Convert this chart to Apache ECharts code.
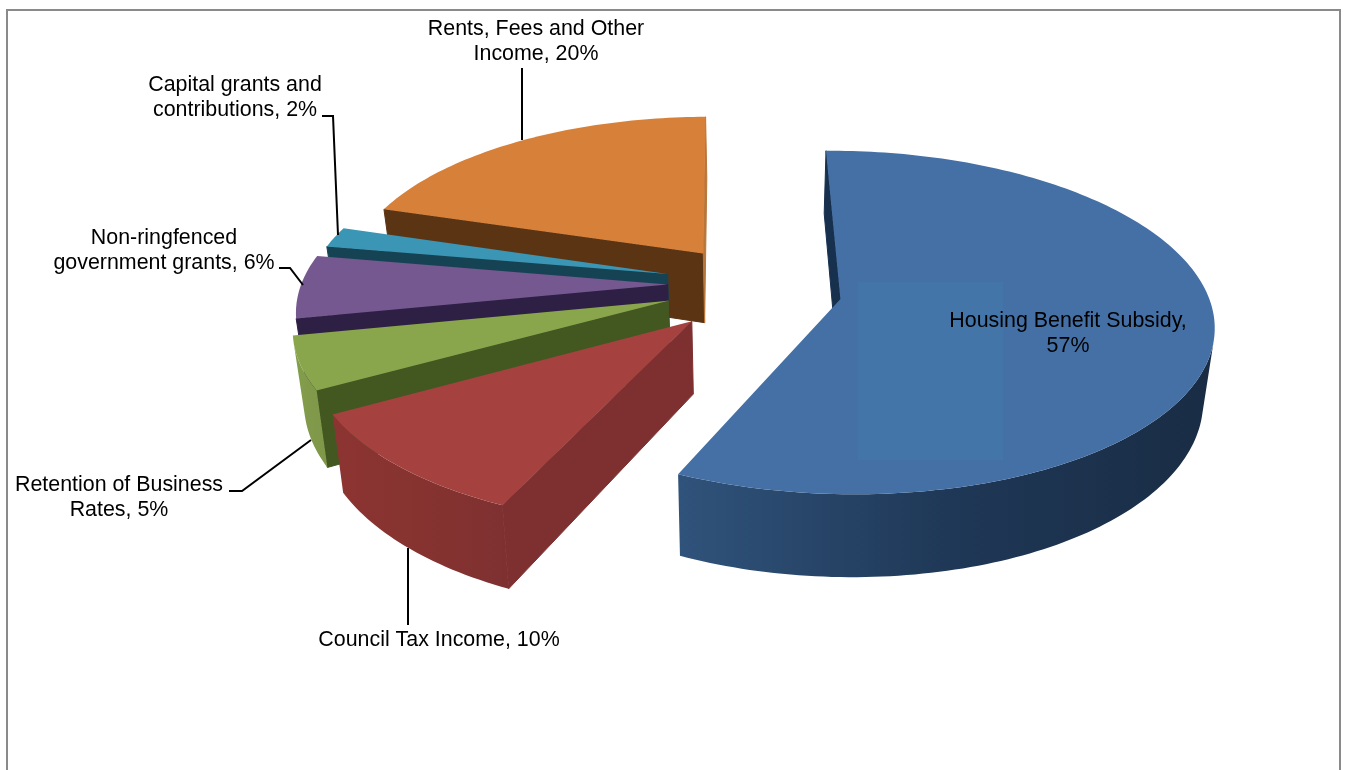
<!DOCTYPE html>
<html>
<head>
<meta charset="utf-8">
<script src="https://cdn.jsdelivr.net/npm/echarts@6/dist/echarts.min.js"></script>
<style>html,body{margin:0;padding:0;background:#fff;overflow:hidden}#chart{width:1347px;height:770px}</style>
</head>
<body>
<div id="chart"></div>
<script>
// Income shares, in percent, running clockwise from twelve o'clock.
const categories = ['Housing Benefit Subsidy', 'Council Tax Income', 'Retention of Business Rates', 'Non-ringfenced government grants', 'Capital grants and contributions', 'Rents, Fees and Other Income'];
const values = [57, 10, 5, 6, 2, 20];
const wrapAfter = ['Subsidy,', null, 'Business', 'Non-ringfenced', 'and', 'Other'];

// Colours per slice: top face, radial walls, outer wall gradient.
const topColors = ['#4470A5', '#A5423F', '#8AA64C', '#74588F', '#3A96B4', '#D7803A'];
const wallColors = ['#16304E', '#7E3030', '#435821', '#2E1F45', '#164354', '#5B3414'];
const closingWallColors = ['#16304E', '#7E3030', '#435821', '#2E1F45', '#164354', '#B8763A'];
const rimColors = [['#30537B', '#1F3857', '#192C44'], ['#8C3431', '#863330', '#7E3030'], ['#83A04A', '#80994A', '#7F9848'], ['#2E1F45', '#2E1F45', '#2E1F45'], ['#164354', '#164354', '#164354'], ['#B8692E', '#B8692E', '#B8692E']];
const paintRank = [5, 4, 3, 2, 1, 0];

// Perspective camera for the tilted disc, plus each slice's pull-out, radius and screen nudge.
const view = {
  cx: 751, cy: 289, focal: 370, squash: 0.4538, depth: 0.138, wall: 71, baseScale: 0.975, rotate: -0.012,
  explode: [0.24, 0.235, 0.23, 0.22, 0.225, 0.24],
  radius: [0.99, 1, 0.99, 0.99, 0.97, 0.97],
  nudge: [[2, 1.5], [1, 2.5], [-2, -2], [-2, -5], [-3, -6], [4, -4]]
};

function project(X, Y, lower, nudge) {
  const w = 1 + view.depth * Y;
  const sx = view.focal * X / w * (lower ? view.baseScale : 1);
  return [view.cx + sx + nudge[0], view.cy + (-view.focal * view.squash * Y + (lower ? view.wall : 0)) / w + nudge[1]];
}
function signedArea(pts) {
  let a = 0;
  pts.forEach((p, i) => { const q = pts[(i + 1) % pts.length]; a += p[0] * q[1] - q[0] * p[1]; });
  return a / 2;
}
const total = values.reduce((a, b) => a + b, 0);

function renderSlice(params, api) {
  const i = params.dataIndex;
  const before = values.slice(0, i).reduce((a, b) => a + b, 0);
  const a0 = (before / total) * 2 * Math.PI + view.rotate;
  const a1 = ((before + api.value(0)) / total) * 2 * Math.PI + view.rotate;
  const mid = (a0 + a1) / 2;
  const r = view.radius[i], nudge = view.nudge[i];
  const ex = view.explode[i] * Math.sin(mid), ey = view.explode[i] * Math.cos(mid);
  const rim = (t, lower) => project(ex + r * Math.sin(t), ey + r * Math.cos(t), lower, nudge);
  const apex = lower => project(ex, ey, lower, nudge);
  const steps = Math.max(8, Math.round((a1 - a0) / 0.02));
  const angle = k => a0 + (a1 - a0) * k / steps;
  const children = [];
  const z2 = paintRank[i] * 10;

  // Radial walls, kept only when they turn towards the camera.
  [[a0, 1, wallColors[i]], [a1, -1, closingWallColors[i]]].forEach(([t, dir, fill]) => {
    const quad = [apex(false), rim(t, false), rim(t, true), apex(true)];
    if (signedArea(quad) * dir < 0) {
      children.push({ type: 'polygon', z2: z2, shape: { points: quad }, style: { fill: fill, stroke: fill, lineWidth: 1 } });
    }
  });

  // Outer wall: only the stretch of the rim that faces the camera.
  let run = [];
  const flush = () => {
    if (run.length > 1) {
      const upper = run.map(t => rim(t, false));
      const lowerEdge = run.map(t => rim(t, true)).reverse();
      children.push({
        type: 'polygon', z2: z2 + 1, shape: { points: upper.concat(lowerEdge) },
        style: { fill: new echarts.graphic.LinearGradient(0, 0, 1, 0, [
          { offset: 0, color: rimColors[i][0] }, { offset: 0.5, color: rimColors[i][1] }, { offset: 1, color: rimColors[i][2] }
        ]) }
      });
    }
    run = [];
  };
  for (let k = 0; k < steps; k++) {
    const t = angle(k), u = angle(k + 1);
    if (signedArea([rim(t, false), rim(u, false), rim(u, true), rim(t, true)]) < 0) {
      if (!run.length) run.push(t);
      run.push(u);
    } else flush();
  }
  flush();

  // Top face.
  const face = [apex(false)];
  for (let k = 0; k <= steps; k++) face.push(rim(angle(k), false));
  children.push({ type: 'polygon', z2: z2 + 2, shape: { points: face }, style: { fill: topColors[i] } });
  return { type: 'group', children: children };
}

const labelFont = { fontFamily: 'Liberation Sans, Arial, sans-serif', fontSize: 21.4, fill: '#000', lineHeight: 25, textAlign: 'center', textVerticalAlign: 'top' };
function labelText(i) {
  const text = categories[i] + ', ' + values[i] + '%';
  return wrapAfter[i] ? text.replace(wrapAfter[i] + ' ', wrapAfter[i] + '\n') : text;
}
// Where each label's text block is centred and how its leader runs to the slice.
const labelAnchors = [[1068, 309], [439, 628], [119, 473], [164, 226], [235, 73], [536, 17]];
const leaders = [null, [[408, 548], [408, 625]], [[229, 491], [242, 491], [311, 440]], [[279, 268], [290, 268], [303, 285]], [[322, 116], [333, 116], [338, 235]], [[522, 68], [522, 140]]];

const graphics = [
  { type: 'rect', z: 0, shape: { x: 7, y: 10, width: 1333, height: 800 }, style: { fill: '#fff', stroke: '#8A8A8A', lineWidth: 2 } },
  { type: 'rect', z: 5, shape: { x: 858, y: 282, width: 145, height: 178 }, style: { fill: '#4475A8' } }
];
categories.forEach((c, i) => {
  graphics.push({ type: 'text', z: 7, x: labelAnchors[i][0], y: labelAnchors[i][1], style: Object.assign({ text: labelText(i) }, labelFont) });
  if (leaders[i]) graphics.push({ type: 'polyline', z: 6, shape: { points: leaders[i] }, style: { stroke: '#000', lineWidth: 2, fill: null } });
});

const chart = echarts.init(document.getElementById('chart'), null, { renderer: 'canvas' });
chart.setOption({
  animation: false,
  graphic: { elements: graphics },
  series: [{ type: 'custom', coordinateSystem: 'none', z: 2, silent: true, renderItem: renderSlice, data: values.map((v, i) => ({ name: categories[i], value: [v] })) }]
});
</script>
</body>
</html>
